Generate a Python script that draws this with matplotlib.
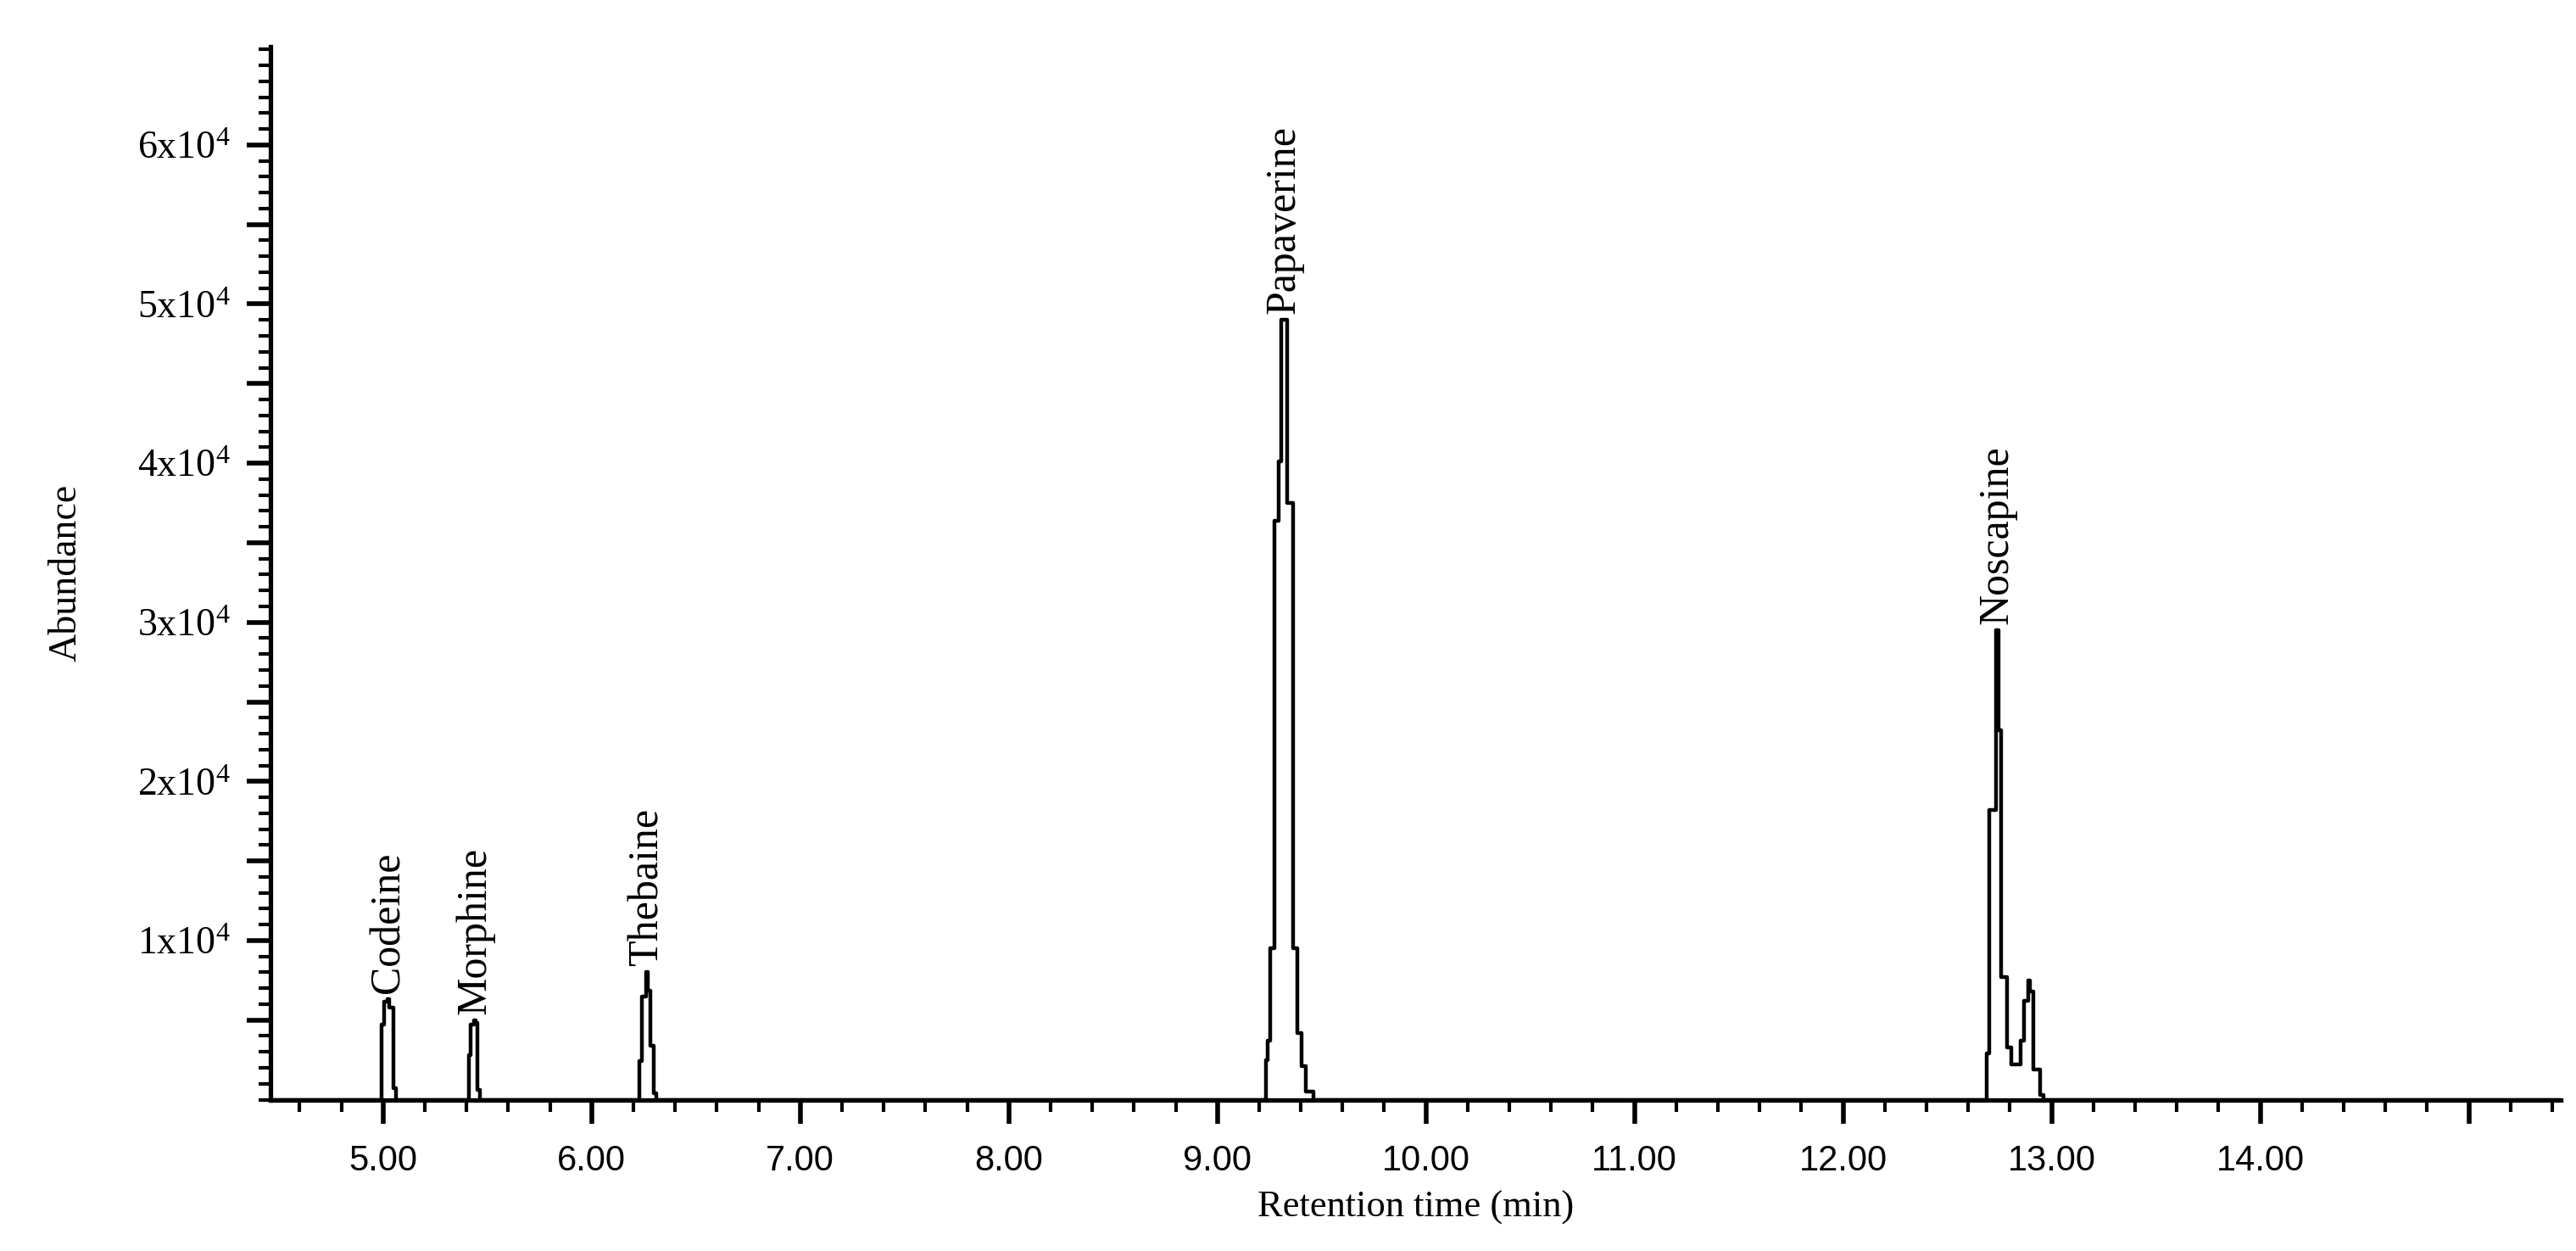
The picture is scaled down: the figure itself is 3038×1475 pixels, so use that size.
import matplotlib
matplotlib.use("Agg")
import matplotlib.pyplot as plt
from matplotlib.ticker import MultipleLocator, FixedLocator, FixedFormatter

# Retention-time step edges (min) and abundance for each scan step
codeine_t = [4.991, 5.006, 5.021, 5.031, 5.050, 5.062]
codeine_y = [4700, 6150, 6300, 5800, 740]
morphine_t = [5.410, 5.421, 5.435, 5.444, 5.454, 5.466]
morphine_y = [2800, 4700, 5000, 4800, 600]
thebaine_t = [6.227, 6.242, 6.263, 6.271, 6.283, 6.298, 6.310]
thebaine_y = [2400, 6500, 8000, 6850, 3400, 400]
papaverine_t = [9.232, 9.243, 9.253, 9.274, 9.294, 9.308, 9.333, 9.363, 9.384, 9.405, 9.426, 9.46]
papaverine_y = [2500, 3700, 9500, 36400, 40100, 49000, 37500, 9500, 4200, 2100, 500]
noscapine_t = [12.687, 12.701, 12.732, 12.746, 12.756, 12.788, 12.808, 12.850, 12.866,
               12.887, 12.897, 12.914, 12.945, 12.963]
noscapine_y = [2900, 18200, 29500, 23200, 7700, 3300, 2200, 3700, 6200, 7500, 6800, 1900, 300]

compounds = ["Codeine", "Morphine", "Thebaine", "Papaverine", "Noscapine"]
label_t = [5.025, 5.44, 6.267, 9.32, 12.74]
label_y = [6300, 5000, 8000, 49000, 29500]

x_major = [5, 6, 7, 8, 9, 10, 11, 12, 13, 14, 15]
x_labels = ["5.00", "6.00", "7.00", "8.00", "9.00", "10.00", "11.00", "12.00", "13.00", "14.00", ""]
y_major = [5000, 10000, 15000, 20000, 25000, 30000, 35000, 40000, 45000, 50000, 55000, 60000]
y_labels = ["", r"1x10$^{4}$", "", r"2x10$^{4}$", "", r"3x10$^{4}$", "", r"4x10$^{4}$",
            "", r"5x10$^{4}$", "", r"6x10$^{4}$"]

plt.rcParams["mathtext.fontset"] = "custom"
plt.rcParams["mathtext.rm"] = "Liberation Serif"
plt.rcParams["mathtext.default"] = "rm"

fig = plt.figure(figsize=(30.38, 14.75), dpi=100)
ax = fig.add_axes([0.105, 0.121, 0.889, 0.842])

xs, ys = [4.46], [0]
for t, y in [(codeine_t, codeine_y), (morphine_t, morphine_y), (thebaine_t, thebaine_y),
             (papaverine_t, papaverine_y), (noscapine_t, noscapine_y)]:
    xs += list(t)
    ys += list(y) + [0]
xs.append(15.44)
ys.append(0)
ax.step(xs, ys, where="post", color="black", lw=3.2)

for name, t, y in zip(compounds, label_t, label_y):
    ax.annotate(name, (t, y), xytext=(0, 5), textcoords="offset points", rotation=90,
                ha="center", va="bottom", family="Liberation Serif", fontsize=36)

ax.set_xlim(4.46, 15.44)
ax.set_ylim(0, 66200)
for s in ["top", "right"]:
    ax.spines[s].set_visible(False)
for s in ["left", "bottom"]:
    ax.spines[s].set_linewidth(3.8)

ax.xaxis.set_major_locator(FixedLocator(x_major))
ax.xaxis.set_major_formatter(FixedFormatter(x_labels))
ax.xaxis.set_minor_locator(MultipleLocator(0.2))
ax.yaxis.set_major_locator(FixedLocator(y_major))
ax.yaxis.set_major_formatter(FixedFormatter(y_labels))
ax.yaxis.set_minor_locator(MultipleLocator(1000))
ax.tick_params(which="major", length=20, width=4, direction="out")
ax.tick_params(which="minor", length=10, width=3, direction="out")
for lab in ax.get_xticklabels():
    lab.set_family("Liberation Sans")
    lab.set_fontsize(30)
for lab in ax.get_yticklabels():
    lab.set_family("Liberation Serif")
    lab.set_fontsize(33)
ax.tick_params(axis="x", pad=18)
ax.tick_params(axis="y", pad=14)

ax.set_xlabel("Retention time (min)", family="Liberation Serif", fontsize=32, labelpad=10)
ax.set_ylabel("Abundance", family="Liberation Serif", fontsize=33, labelpad=45)

fig.savefig("out.png", dpi=100, facecolor="white")
